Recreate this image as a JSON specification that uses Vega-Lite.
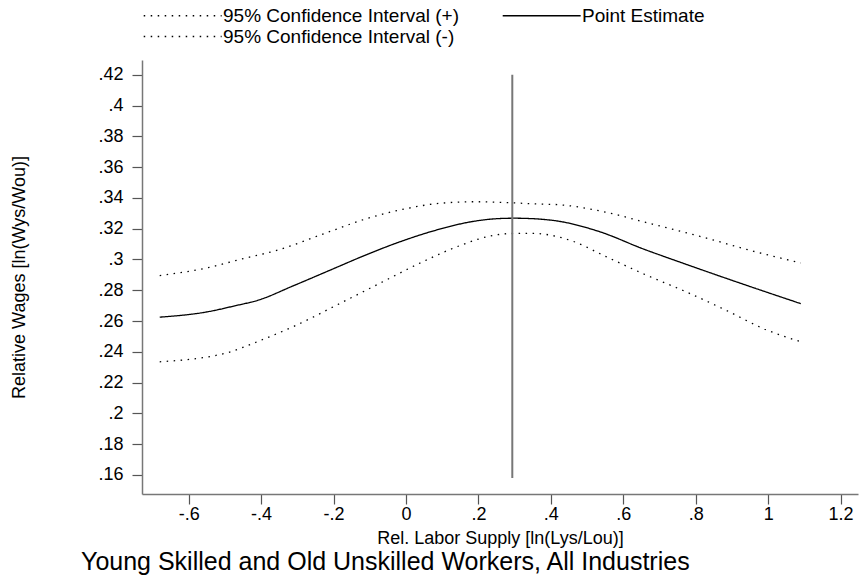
{
  "$schema": "https://vega.github.io/schema/vega-lite/v6.json",
  "width": 716,
  "height": 434,
  "autosize": "none",
  "padding": {"left": 142, "top": 60, "right": 1, "bottom": 82},
  "background": "white",
  "config": {
    "view": {"stroke": null},
    "font": "Liberation Sans",
    "axis": {
      "grid": false,
      "domainColor": "#777777",
      "domainWidth": 1.5,
      "tickColor": "#555555",
      "tickWidth": 1.2,
      "tickSize": 10,
      "labelColor": "black",
      "labelFont": "Liberation Sans",
      "labelFontSize": 18,
      "labelOverlap": false,
      "titleFont": "Liberation Sans",
      "titleFontSize": 18,
      "titleFontWeight": "normal",
      "titleColor": "black"
    },
    "legend": {
      "labelFont": "Liberation Sans",
      "labelFontSize": 19,
      "labelColor": "black",
      "labelLimit": 400
    }
  },
  "title": {
    "text": "Young Skilled and Old Unskilled Workers, All Industries",
    "orient": "bottom",
    "anchor": "start",
    "frame": "group",
    "dx": -61,
    "offset": 3,
    "font": "Liberation Sans",
    "fontSize": 25,
    "fontWeight": "normal",
    "color": "black"
  },
  "datasets": {
    "curves": [
      {"x": -0.68, "y": 0.2625, "series": "Point Estimate"},
      {"x": -0.55, "y": 0.2659, "series": "Point Estimate"},
      {"x": -0.47, "y": 0.2700, "series": "Point Estimate"},
      {"x": -0.41, "y": 0.2734, "series": "Point Estimate"},
      {"x": -0.31, "y": 0.2830, "series": "Point Estimate"},
      {"x": -0.21, "y": 0.2930, "series": "Point Estimate"},
      {"x": -0.11, "y": 0.3030, "series": "Point Estimate"},
      {"x": -0.02, "y": 0.3112, "series": "Point Estimate"},
      {"x": 0.09, "y": 0.3195, "series": "Point Estimate"},
      {"x": 0.18, "y": 0.3245, "series": "Point Estimate"},
      {"x": 0.26, "y": 0.3266, "series": "Point Estimate"},
      {"x": 0.30, "y": 0.3268, "series": "Point Estimate"},
      {"x": 0.37, "y": 0.3262, "series": "Point Estimate"},
      {"x": 0.42, "y": 0.3249, "series": "Point Estimate"},
      {"x": 0.53, "y": 0.3184, "series": "Point Estimate"},
      {"x": 0.66, "y": 0.3064, "series": "Point Estimate"},
      {"x": 0.75, "y": 0.2988, "series": "Point Estimate"},
      {"x": 0.86, "y": 0.2897, "series": "Point Estimate"},
      {"x": 0.97, "y": 0.2808, "series": "Point Estimate"},
      {"x": 1.09, "y": 0.2713, "series": "Point Estimate"},
      {"x": -0.68, "y": 0.2895, "series": "95% Confidence Interval (+)"},
      {"x": -0.55, "y": 0.2945, "series": "95% Confidence Interval (+)"},
      {"x": -0.46, "y": 0.2999, "series": "95% Confidence Interval (+)"},
      {"x": -0.35, "y": 0.3064, "series": "95% Confidence Interval (+)"},
      {"x": -0.22, "y": 0.3173, "series": "95% Confidence Interval (+)"},
      {"x": -0.11, "y": 0.3264, "series": "95% Confidence Interval (+)"},
      {"x": 0.00, "y": 0.3330, "series": "95% Confidence Interval (+)"},
      {"x": 0.09, "y": 0.3364, "series": "95% Confidence Interval (+)"},
      {"x": 0.19, "y": 0.3375, "series": "95% Confidence Interval (+)"},
      {"x": 0.28, "y": 0.3369, "series": "95% Confidence Interval (+)"},
      {"x": 0.37, "y": 0.3360, "series": "95% Confidence Interval (+)"},
      {"x": 0.42, "y": 0.3356, "series": "95% Confidence Interval (+)"},
      {"x": 0.55, "y": 0.3308, "series": "95% Confidence Interval (+)"},
      {"x": 0.66, "y": 0.3242, "series": "95% Confidence Interval (+)"},
      {"x": 0.81, "y": 0.3151, "series": "95% Confidence Interval (+)"},
      {"x": 0.96, "y": 0.3053, "series": "95% Confidence Interval (+)"},
      {"x": 1.09, "y": 0.2977, "series": "95% Confidence Interval (+)"},
      {"x": -0.68, "y": 0.2335, "series": "95% Confidence Interval (-)"},
      {"x": -0.49, "y": 0.2396, "series": "95% Confidence Interval (-)"},
      {"x": -0.42, "y": 0.2457, "series": "95% Confidence Interval (-)"},
      {"x": -0.31, "y": 0.2565, "series": "95% Confidence Interval (-)"},
      {"x": -0.18, "y": 0.2717, "series": "95% Confidence Interval (-)"},
      {"x": -0.07, "y": 0.2848, "series": "95% Confidence Interval (-)"},
      {"x": 0.04, "y": 0.2978, "series": "95% Confidence Interval (-)"},
      {"x": 0.15, "y": 0.3091, "series": "95% Confidence Interval (-)"},
      {"x": 0.24, "y": 0.3156, "series": "95% Confidence Interval (-)"},
      {"x": 0.30, "y": 0.3169, "series": "95% Confidence Interval (-)"},
      {"x": 0.35, "y": 0.3169, "series": "95% Confidence Interval (-)"},
      {"x": 0.46, "y": 0.3119, "series": "95% Confidence Interval (-)"},
      {"x": 0.55, "y": 0.3021, "series": "95% Confidence Interval (-)"},
      {"x": 0.66, "y": 0.2902, "series": "95% Confidence Interval (-)"},
      {"x": 0.77, "y": 0.2793, "series": "95% Confidence Interval (-)"},
      {"x": 0.88, "y": 0.2674, "series": "95% Confidence Interval (-)"},
      {"x": 0.99, "y": 0.2548, "series": "95% Confidence Interval (-)"},
      {"x": 1.09, "y": 0.2465, "series": "95% Confidence Interval (-)"}
    ],
    "vline": [{"x": 0.2935, "ylo": 0.158, "yhi": 0.42}]
  },
  "layer": [
    {
      "data": {"name": "curves"},
      "mark": {"type": "line", "color": "black", "strokeWidth": 1.3, "interpolate": "monotone"},
      "encoding": {
        "x": {
          "field": "x", "type": "quantitative",
          "scale": {"domain": [-0.7289, 1.248], "nice": false, "zero": false},
          "axis": {
            "title": "Rel. Labor Supply [ln(Lys/Lou)]",
            "values": [-0.6, -0.4, -0.2, 0, 0.2, 0.4, 0.6, 0.8, 1, 1.2],
            "labelExpr": "datum.value == 0 ? '0' : (abs(datum.value) < 1 ? (datum.value < 0 ? '-' : '') + slice(format(abs(datum.value), '.1~f'), 1) : format(datum.value, '.1~f'))",
            "labelPadding": 1,
            "labelOverlap": false,
            "titlePadding": 6
          }
        },
        "y": {
          "field": "y", "type": "quantitative",
          "scale": {"domain": [0.1476, 0.4296], "nice": false, "zero": false},
          "axis": {
            "title": "Relative Wages [ln(Wys/Wou)]",
            "values": [0.16, 0.18, 0.2, 0.22, 0.24, 0.26, 0.28, 0.3, 0.32, 0.34, 0.36, 0.38, 0.4, 0.42],
            "tickCount": 14,
            "labelExpr": "slice(format(datum.value, '.2~f'), 1)",
            "labelPadding": 9,
            "labelOverlap": false,
            "labelSeparation": 0,
            "titlePadding": 69
          }
        },
        "strokeDash": {
          "field": "series", "type": "nominal",
          "scale": {
            "domain": ["95% Confidence Interval (+)", "Point Estimate", "95% Confidence Interval (-)"],
            "range": [[1.5, 5.5], [1, 0], [1.5, 5.5]]
          },
          "legend": {
            "title": null,
            "orient": "top",
            "direction": "horizontal",
            "columns": 2,
            "offset": 13,
            "symbolType": "M-1,0H9",
            "symbolSize": 243,
            "symbolStrokeColor": "black",
            "symbolStrokeWidth": 1.3,
            "labelOffset": 62,
            "columnPadding": 40,
            "rowPadding": 1
          }
        }
      }
    },
    {
      "data": {"name": "vline"},
      "mark": {"type": "rule", "color": "#777777", "strokeWidth": 2},
      "encoding": {
        "x": {"field": "x", "type": "quantitative"},
        "y": {"field": "ylo", "type": "quantitative"},
        "y2": {"field": "yhi"}
      }
    }
  ]
}
